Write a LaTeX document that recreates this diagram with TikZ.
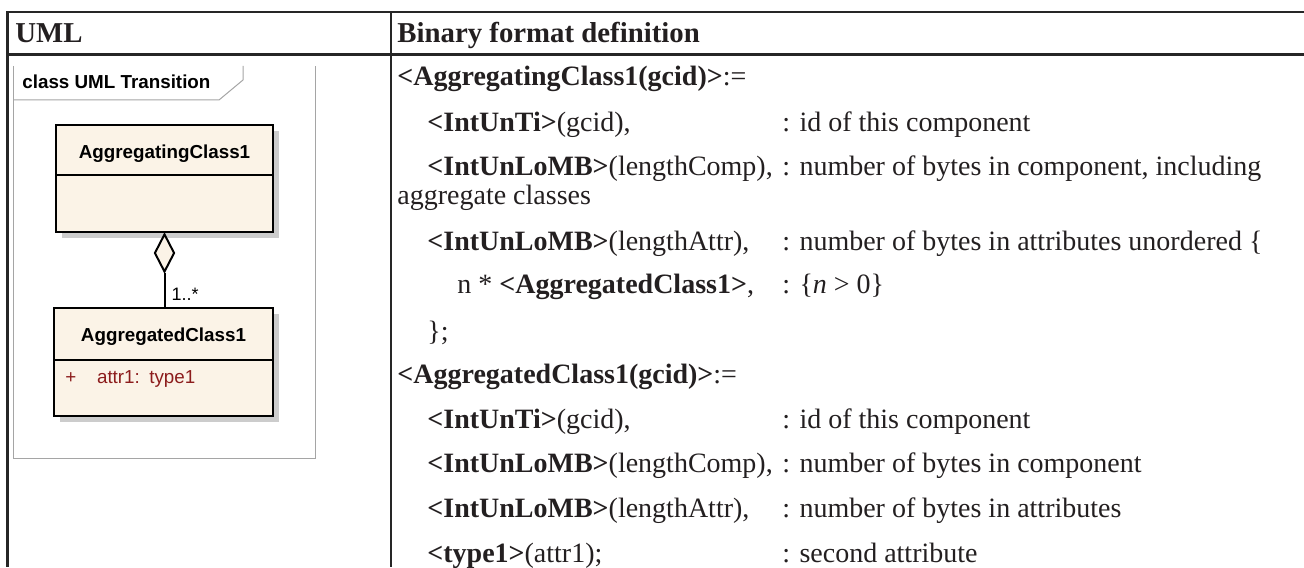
\documentclass[tikz,border=0pt]{standalone}
\usepackage{fontspec}
\setmainfont{Liberation Serif}
\setsansfont{Liberation Sans}
\usetikzlibrary{positioning,shapes.geometric,shadows}

\definecolor{umlfill}{RGB}{251,243,231}
\definecolor{umlred}{RGB}{140,28,28}
\definecolor{framegray}{RGB}{165,165,165}
\definecolor{inkgray}{RGB}{35,31,32}

\begin{document}
\begin{tikzpicture}[x=0.5pt,y=-0.5pt,
    rule/.style={line width=1.1pt,black!85},
    cell/.style={anchor=base west,inner sep=0pt,text=inkgray,font=\fontsize{14}{16}\selectfont},
    headcell/.style={cell,font=\fontsize{14.4}{16}\selectfont\bfseries},
    umlclass/.style={draw,line width=1pt,fill=umlfill,inner sep=0pt,
        drop shadow={shadow xshift=3pt,shadow yshift=-3pt,fill=black!20,opacity=1}},
    umltext/.style={inner sep=0pt,font=\fontsize{9.4}{11}\selectfont\sffamily}]
    \useasboundingbox (0,0) rectangle (1304,567);

    % table lines
    \draw[rule] (1304,12) -- (7.5,12) -- (7.5,567);
    \draw[rule] (7.5,54.5) -- (1304,54.5);
    \draw[rule] (391,12) -- (391,567);
    \node[headcell] (hUml) at (15,43) {UML};
    \node[headcell] (hBin) at (397,43) {Binary format definition};

    % UML frame
    \draw[framegray,line width=0.5pt] (13,66) -- (13,458) -- (315,458) -- (315,66);
    \draw[framegray,line width=0.5pt] (243,66) -- (243,80) -- (219,100) -- (13,100);
    \node[umltext,font=\fontsize{9.4}{11}\selectfont\sffamily\bfseries,anchor=west] (frameName) at (22,82) {class UML Transition};

    % classes
    \node[umlclass,minimum width=108.5pt,minimum height=53.5pt] (aggr) at (164.5,178.5) {};
    \draw[line width=1pt] (aggr.west |- 0,175) -- (aggr.east |- 0,175);
    \node[umltext,font=\fontsize{9.4}{11}\selectfont\sffamily\bfseries] (aggrName) at (164.5,154) {AggregatingClass1};

    \node[umlclass,minimum width=109.5pt,minimum height=54pt] (aggd) at (163.5,362) {};
    \draw[line width=1pt] (aggd.west |- 0,360) -- (aggd.east |- 0,360);
    \node[umltext,font=\fontsize{9.4}{11}\selectfont\sffamily\bfseries] (aggdName) at (163.5,337) {AggregatedClass1};
    \node[umltext,text=umlred,anchor=west] (aggdAttr) at (65,379) {+\hspace{1.1em}attr1:\enspace type1};

    \node[diamond,draw,line width=1pt,fill=umlfill,inner sep=0pt,aspect=0.53,
        minimum width=10pt,minimum height=19pt,anchor=north] (dmd) at (aggr.south) {};
    \draw[line width=1pt] (dmd.south) -- node[right,umltext,font=\fontsize{9}{11}\selectfont\sffamily,xshift=3pt,yshift=-2pt] (mult) {1..*} (dmd.south |- aggd.north);

    % binary format
    \node[cell] (aggrDef) at (397,86) {\textbf{<AggregatingClass1(gcid)>}:=};
    \node[cell] (aggrId) at (427,131) {\textbf{<IntUnTi>}(gcid),};
    \node[cell] (aggrId2) at (782,131) {: id of this component};
    \node[cell] (aggrLen) at (427,175) {\textbf{<IntUnLoMB>}(lengthComp),};
    \node[cell] (aggrLen2) at (782,175) {: number of bytes in component, including};
    \node[cell] (aggrLen3) at (397,204) {aggregate classes};
    \node[cell] (aggrAttr) at (427,250) {\textbf{<IntUnLoMB>}(lengthAttr),};
    \node[cell] (aggrAttr2) at (782,250) {: number of bytes in attributes unordered \{};
    \node[cell] (aggrN) at (457,293) {n * \textbf{<AggregatedClass1>},};
    \node[cell] (aggrN2) at (782,293) {: \{\textit{n} > 0\}};
    \node[cell] (aggrEnd) at (427,340) {\};};

    \node[cell] (aggdDef) at (397,383) {\textbf{<AggregatedClass1(gcid)>}:=};
    \node[cell] (aggdId) at (427,428) {\textbf{<IntUnTi>}(gcid),};
    \node[cell] (aggdId2) at (782,428) {: id of this component};
    \node[cell] (aggdLen) at (427,472) {\textbf{<IntUnLoMB>}(lengthComp),};
    \node[cell] (aggdLen2) at (782,472) {: number of bytes in component};
    \node[cell] (aggdAttr) at (427,517) {\textbf{<IntUnLoMB>}(lengthAttr),};
    \node[cell] (aggdAttr2) at (782,517) {: number of bytes in attributes};
    \node[cell] (aggdType) at (427,562) {\textbf{<type1>}(attr1);};
    \node[cell] (aggdType2) at (782,562) {: second attribute};
\end{tikzpicture}
\end{document}
